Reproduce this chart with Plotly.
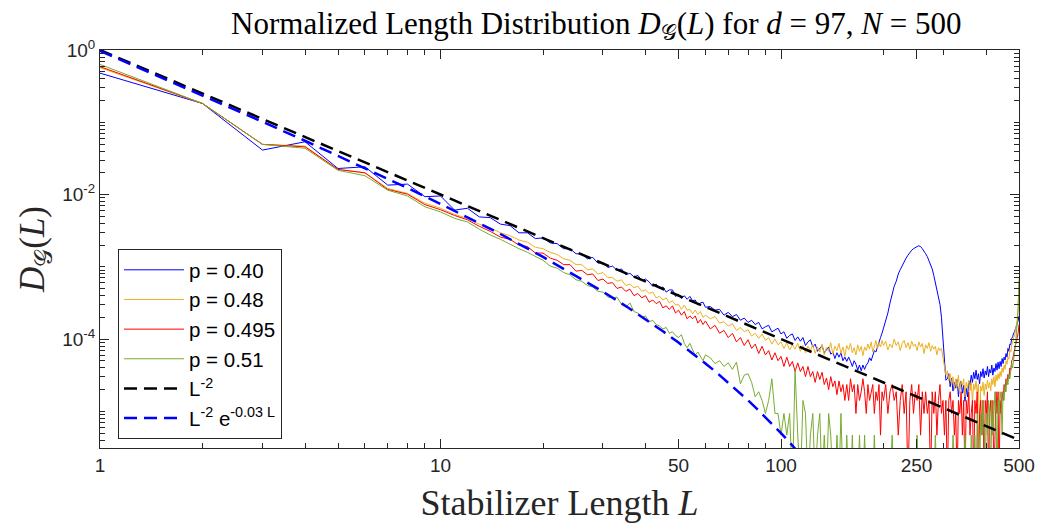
import numpy as np
import plotly.graph_objects as go

# ---------------- data ----------------
# Stabilizer length grid (integer L; step grows at large L)
L_a = list(range(1, 61))
L_b = list(range(62, 201, 2))
L_c = list(range(203, 501, 3))
L = L_a + L_b + L_c

# log10 D_G(L) (values below -5.5 are off-axis / empty bins)
log10_p040 = [
    -0.32, -0.74, -1.385, -1.27, -1.64, -1.616, -1.87, -1.856, -2.03, -2.02,
    -2.216, -2.19, -2.31, -2.32, -2.41, -2.43, -2.53, -2.53, -2.61, -2.60,
    -2.67, -2.68, -2.75, -2.75, -2.82, -2.82, -2.89, -2.87, -2.95, -2.94,
    -3.01, -2.99, -3.05, -3.03, -3.11, -3.09, -3.14, -3.12, -3.19, -3.17,
    -3.21, -3.27, -3.24, -3.30, -3.28, -3.35, -3.32, -3.32, -3.41, -3.38,
    -3.44, -3.40, -3.45, -3.41, -3.47, -3.46, -3.53, -3.50, -3.49, -3.56,
    # L = 62..200 step 2
    -3.55, -3.60, -3.59, -3.67, -3.63, -3.69, -3.66, -3.74, -3.71, -3.77,
    -3.74, -3.80, -3.77, -3.86, -3.83, -3.81, -3.90, -3.87, -3.85, -3.93,
    -3.90, -3.99, -3.95, -3.93, -4.02, -3.97, -4.03, -3.98, -4.09, -4.04,
    -4.01, -4.11, -4.07, -4.17, -4.12, -4.09, -4.19, -4.15, -4.11, -4.21,
    -4.18, -4.27, -4.19, -4.25, -4.19, -4.30, -4.25, -4.31, -4.25, -4.31,
    -4.38, -4.30, -4.35, -4.43, -4.36, -4.44, -4.36, -4.42, -4.36, -4.33,
    -4.26, -4.30, -4.22, -4.16, -4.18, -4.10, -4.05, -3.98, -3.92, -3.85,
    # L = 203..500 step 3
    -3.76, -3.64, -3.50, -3.36, -3.27, -3.20, -3.10, -3.04, -2.98, -2.93,
    -2.88, -2.84, -2.80, -2.77, -2.75, -2.73, -2.72, -2.71, -2.72, -2.75,
    -2.78, -2.82, -2.86, -2.91, -2.97, -3.03, -3.12, -3.22, -3.32, -3.42,
    -3.52, -3.70, -3.97, -4.30, -4.57, -4.55, -4.48, -4.66, -4.54, -4.72,
    -4.60, -4.68, -4.56, -4.80, -4.62, -4.58, -4.75, -4.64, -4.86, -4.68,
    -4.80, -4.58, -4.64, -4.50, -4.60, -4.46, -4.55, -4.43, -4.56, -4.48,
    -4.62, -4.45, -4.52, -4.41, -4.54, -4.44, -4.50, -4.38, -4.52, -4.42,
    -4.47, -4.36, -4.50, -4.40, -4.45, -4.34, -4.43, -4.32, -4.41, -4.31,
    -4.38, -4.27, -4.34, -4.25, -4.29, -4.20, -4.25, -4.13, -4.17, -4.07,
    -4.08, -3.99, -3.97, -3.92, -3.90, -3.86, -3.83, -3.79, -3.75, -3.68,
]

log10_p048 = [
    -0.245, -0.74, -1.306, -1.33, -1.653, -1.70, -1.916, -1.985, -2.12, -2.19,
    -2.276, -2.33, -2.41, -2.46, -2.53, -2.57, -2.63, -2.66, -2.73, -2.75,
    -2.80, -2.83, -2.89, -2.91, -2.97, -2.97, -3.04, -3.03, -3.10, -3.08,
    -3.15, -3.15, -3.20, -3.18, -3.26, -3.24, -3.29, -3.27, -3.34, -3.32,
    -3.37, -3.35, -3.43, -3.41, -3.46, -3.43, -3.50, -3.47, -3.53, -3.52,
    -3.59, -3.53, -3.60, -3.59, -3.65, -3.60, -3.66, -3.62, -3.70, -3.67,
    # L = 62..200 step 2
    -3.72, -3.69, -3.78, -3.76, -3.82, -3.79, -3.88, -3.84, -3.90, -3.87,
    -3.96, -3.92, -3.99, -3.93, -4.02, -3.98, -4.07, -4.00, -4.08, -4.04,
    -4.13, -4.05, -4.15, -4.08, -4.14, -4.06, -4.17, -4.09, -4.19, -4.10,
    -4.16, -4.08, -4.20, -4.11, -4.18, -4.07, -4.22, -4.12, -4.17, -4.05,
    -4.21, -4.10, -4.16, -4.06, -4.20, -4.11, -4.24, -4.09, -4.15, -4.06,
    -4.19, -4.12, -4.22, -4.08, -4.17, -4.10, -4.23, -4.11, -4.16, -4.07,
    -4.14, -4.04, -4.18, -4.09, -4.02, -4.13, -4.05, -4.11, -4.02, -4.09,
    # L = 203..500 step 3
    -4.03, -4.15, -4.07, -4.12, -4.00, -4.09, -4.04, -4.16, -4.06, -4.02,
    -4.12, -4.05, -4.14, -4.03, -4.10, -4.07, -4.16, -4.04, -4.11, -4.06,
    -4.20, -4.08, -4.13, -4.05, -4.17, -4.09, -4.14, -4.10, -4.22, -4.12,
    -4.16, -4.13, -4.25, -4.38, -4.50, -4.44, -4.58, -4.48, -4.62, -4.52,
    -4.70, -4.55, -4.66, -4.50, -4.74, -4.58, -4.64, -4.55, -4.80, -4.60,
    -4.68, -4.57, -4.72, -4.60, -4.88, -4.62, -4.70, -4.58, -4.75, -4.62,
    -5.30, -4.65, -4.72, -4.60, -4.78, -4.62, -4.70, -4.57, -4.68, -4.60,
    -4.72, -4.55, -4.63, -4.52, -4.66, -4.50, -4.58, -4.48, -4.55, -4.45,
    -4.52, -4.40, -4.46, -4.36, -4.42, -4.30, -4.35, -4.25, -4.28, -4.15,
    -4.18, -4.08, -4.05, -3.98, -3.95, -3.88, -3.82, -3.75, -3.55, -3.15,
]

log10_p0495 = [
    -0.23, -0.74, -1.306, -1.34, -1.653, -1.70, -1.93, -1.995, -2.14, -2.21,
    -2.29, -2.35, -2.44, -2.51, -2.59, -2.62, -2.70, -2.72, -2.81, -2.81,
    -2.88, -2.91, -2.97, -2.97, -3.06, -3.05, -3.11, -3.10, -3.19, -3.17,
    -3.23, -3.22, -3.30, -3.28, -3.34, -3.31, -3.40, -3.37, -3.43, -3.40,
    -3.49, -3.46, -3.51, -3.48, -3.57, -3.54, -3.59, -3.54, -3.64, -3.60,
    -3.67, -3.62, -3.72, -3.68, -3.72, -3.68, -3.78, -3.73, -3.80, -3.75,
    # L = 62..200 step 2
    -3.86, -3.81, -3.92, -3.88, -3.98, -3.92, -4.04, -3.98, -4.09, -4.01,
    -4.13, -4.07, -4.20, -4.10, -4.22, -4.16, -4.29, -4.19, -4.30, -4.24,
    -4.38, -4.25, -4.38, -4.31, -4.45, -4.33, -4.45, -4.38, -4.52, -4.38,
    -4.52, -4.45, -4.60, -4.45, -4.56, -4.46, -4.63, -4.54, -4.70, -4.52,
    -4.66, -4.58, -4.77, -4.58, -4.73, -4.63, -4.85, -4.63, -4.85, -4.55,
    -4.73, -4.63, -5.03, -4.63, -4.85, -4.73, -4.55, -4.73, -5.03, -4.63,
    -4.85, -4.73, -4.63, -5.03, -4.73, -4.85, -4.63, -5.33, -4.73, -4.85,
    # L = 203..500 step 3
    -4.63, -5.03, -4.73, -4.63, -4.85, -4.73, -5.33, -4.85, -4.63, -5.03,
    -4.73, -6.00, -4.85, -4.63, -5.03, -4.73, -4.85, -4.63, -5.33, -4.73,
    -5.03, -4.73, -5.03, -4.85, -6.00, -4.73, -5.03, -4.73, -5.33, -4.85,
    -4.63, -5.03, -4.85, -5.33, -4.85, -6.00, -4.85, -4.73, -5.03, -4.85,
    -5.33, -5.03, -6.00, -4.85, -5.03, -4.73, -5.33, -4.85, -6.00, -4.85,
    -5.03, -4.73, -5.33, -5.03, -4.85, -6.00, -4.85, -5.03, -4.73, -6.00,
    -5.03, -4.85, -5.33, -4.85, -6.00, -4.85, -5.03, -4.73, -6.00, -5.03,
    -4.85, -5.33, -4.85, -6.00, -5.03, -4.73, -5.03, -4.73, -6.00, -4.85,
    -5.03, -4.73, -4.85, -4.63, -4.73, -4.55, -4.63, -4.49, -4.55, -4.40,
    -4.43, -4.30, -4.28, -4.18, -4.15, -4.08, -4.05, -3.98, -3.92, -3.80,
]

log10_p051 = [
    -0.20, -0.74, -1.306, -1.36, -1.665, -1.74, -1.94, -2.02, -2.17, -2.24,
    -2.33, -2.38, -2.48, -2.56, -2.62, -2.69, -2.75, -2.80, -2.86, -2.91,
    -2.99, -3.02, -3.08, -3.11, -3.18, -3.20, -3.26, -3.28, -3.34, -3.35,
    -3.42, -3.43, -3.42, -3.52, -3.56, -3.50, -3.62, -3.64, -3.70, -3.68,
    -3.76, -3.74, -3.80, -3.82, -3.86, -3.84, -3.92, -3.90, -3.95, -3.98,
    -3.94, -4.06, -4.12, -4.06, -4.15, -4.22, -4.18, -4.25, -4.30, -4.22,
    # L = 62..200 step 2
    -4.26, -4.34, -4.30, -4.38, -4.33, -4.42, -4.32, -4.62, -4.50, -4.48,
    -4.60, -4.80, -4.73, -4.85, -5.03, -4.85, -4.55, -5.03, -5.03, -5.33,
    -5.03, -5.33, -5.03, -6.00, -4.43, -5.33, -6.00, -4.85, -5.03, -6.00,
    -5.33, -5.03, -6.00, -5.33, -5.03, -6.00, -5.33, -6.00, -5.03, -5.33,
    -6.00, -6.00, -5.33, -6.00, -5.03, -6.00, -6.00, -5.33, -6.00, -6.00,
    -5.33, -6.00, -6.00, -6.00, -5.33, -6.00, -6.00, -5.33, -6.00, -6.00,
    -6.00, -6.00, -6.00, -5.33, -6.00, -6.00, -6.00, -6.00, -6.00, -6.00,
    # L = 203..500 step 3
    -6.00, -6.00, -6.00, -5.33, -6.00, -6.00, -6.00, -6.00, -6.00, -6.00,
    -6.00, -6.00, -6.00, -6.00, -6.00, -6.00, -5.33, -6.00, -6.00, -6.00,
    -6.00, -6.00, -6.00, -6.00, -6.00, -6.00, -6.00, -5.33, -6.00, -6.00,
    -6.00, -6.00, -6.00, -6.00, -6.00, -6.00, -6.00, -6.00, -6.00, -5.33,
    -6.00, -6.00, -6.00, -6.00, -6.00, -6.00, -6.00, -6.00, -5.33, -6.00,
    -6.00, -6.00, -6.00, -5.33, -6.00, -6.00, -5.33, -6.00, -5.03, -5.33,
    -6.00, -5.03, -5.33, -4.85, -5.33, -6.00, -5.03, -5.33, -4.85, -5.03,
    -6.00, -4.85, -5.33, -5.03, -4.73, -5.03, -6.00, -4.85, -5.03, -4.73,
    -4.85, -5.33, -4.73, -4.85, -4.63, -4.73, -4.55, -4.63, -4.49, -4.55,
    -4.43, -4.33, -4.40, -4.25, -4.18, -4.10, -3.95, -3.80, -3.60, -3.20,
]

# reference curves (tabulated)
L_pow = [1, 10, 100, 500]
D_pow = [1.0, 1.0e-2, 1.0e-4, 4.0e-6]
L_pexp = [1, 2, 3, 4, 5, 6, 8, 10, 12, 15, 20, 25, 30, 35, 40, 45, 50, 55, 60,
          65, 70, 75, 80, 85, 90, 95, 100, 105, 110, 115]
D_pexp = [0.970, 0.2355, 0.1016, 0.05546, 0.03443, 0.02323, 0.0123, 0.00741,
          0.00485, 0.00284, 0.00137, 7.55e-4, 4.52e-4, 2.86e-4, 1.88e-4,
          1.28e-4, 8.93e-5, 6.34e-5, 4.59e-5, 3.37e-5, 2.50e-5, 1.87e-5,
          1.42e-5, 1.08e-5, 8.30e-6, 6.41e-6, 4.98e-6, 3.89e-6, 3.05e-6, 2.40e-6]

series_names = ["p = 0.40", "p = 0.48", "p = 0.495", "p = 0.51"]
series_logs = [log10_p040, log10_p048, log10_p0495, log10_p051]
series_colors = ["#0000FF", "#EDB120", "#FF0000", "#77AC30"]

x_tick_vals = [1, 10, 50, 100, 250, 500]
x_tick_text = ["1", "10", "50", "100", "250", "500"]
y_tick_vals = [1e-4, 1e-2, 1]
y_tick_text = ["10<sup>-4</sup>", "10<sup>-2</sup>", "10<sup>0</sup>"]

# ---------------- figure ----------------
AX = "#262626"
SANS = "Liberation Sans, Arial, sans-serif"
SERIF = "Liberation Serif, Times New Roman, serif"

fig = go.Figure()
for name, vals, col in zip(series_names, series_logs, series_colors):
    assert len(vals) == len(L), (name, len(vals))
    fig.add_trace(go.Scatter(x=L, y=10.0 ** np.array(vals), mode="lines", name=name,
                             line=dict(color=col, width=1)))

fig.add_trace(go.Scatter(x=L_pow, y=D_pow, mode="lines", name="L<sup>-2</sup>",
                         line=dict(color="black", width=2.5, dash="13px,7px")))
fig.add_trace(go.Scatter(x=L_pexp, y=D_pexp, mode="lines",
                         name="L<sup>-2</sup> e<sup>-0.03 L</sup>",
                         line=dict(color="#0000FF", width=2.5, dash="13px,7px")))

x_minor = [2, 3, 4, 5, 6, 7, 8, 9, 20, 30, 40, 60, 70, 80, 90, 200, 300, 400]
y_minor = [k * 10.0 ** e for e in range(-6, 0) for k in range(1, 10)
           if not (k == 1 and e in (-4, -2))]

fig.update_xaxes(
    type="log", range=[0, np.log10(500)],
    tickmode="array", tickvals=x_tick_vals, ticktext=x_tick_text,
    ticks="inside", ticklen=9, tickwidth=1, tickcolor=AX,
    showline=True, linecolor=AX, linewidth=1, mirror="ticks",
    showgrid=False, zeroline=False,
    tickfont=dict(family=SANS, size=19, color=AX),
    minor=dict(tickmode="array", tickvals=x_minor, ticks="inside", ticklen=5,
               tickwidth=1, tickcolor=AX, showgrid=False),
    title=dict(text="Stabilizer Length <i>L</i>", standoff=15,
               font=dict(family=SERIF, size=36, color=AX)),
)
fig.update_yaxes(
    type="log", range=[-5.508, 0],
    tickmode="array", tickvals=y_tick_vals, ticktext=y_tick_text,
    ticks="inside", ticklen=9, tickwidth=1, tickcolor=AX,
    showline=True, linecolor=AX, linewidth=1, mirror="ticks",
    showgrid=False, zeroline=False,
    tickfont=dict(family=SANS, size=19, color=AX),
    minor=dict(tickmode="array", tickvals=y_minor, ticks="inside", ticklen=5,
               tickwidth=1, tickcolor=AX, showgrid=False),
    title=dict(text="<i>D</i><sub>𝒢</sub>(<i>L</i>)", standoff=6,
               font=dict(family=SERIF, size=35, color=AX)),
)

fig.update_layout(
    width=1039, height=525,
    margin=dict(l=100, r=20, t=50, b=77, autoexpand=False),
    paper_bgcolor="white", plot_bgcolor="white",
    title=dict(text="Normalized Length Distribution <i>D</i><sub>𝒢</sub>(<i>L</i>) for <i>d</i> = 97, <i>N</i> = 500",
               x=0.54, xref="paper", xanchor="center",
               y=1 - 23 / 525, yref="container", yanchor="middle",
               font=dict(family=SERIF, size=31, color="black")),
    legend=dict(x=0.0196, y=0.50, xanchor="left", yanchor="top",
                bgcolor="white", bordercolor=AX, borderwidth=1,
                font=dict(family=SANS, size=20.5, color="black"),
                itemwidth=60, tracegroupgap=0),
    showlegend=True,
)

fig.write_html("out.html")
